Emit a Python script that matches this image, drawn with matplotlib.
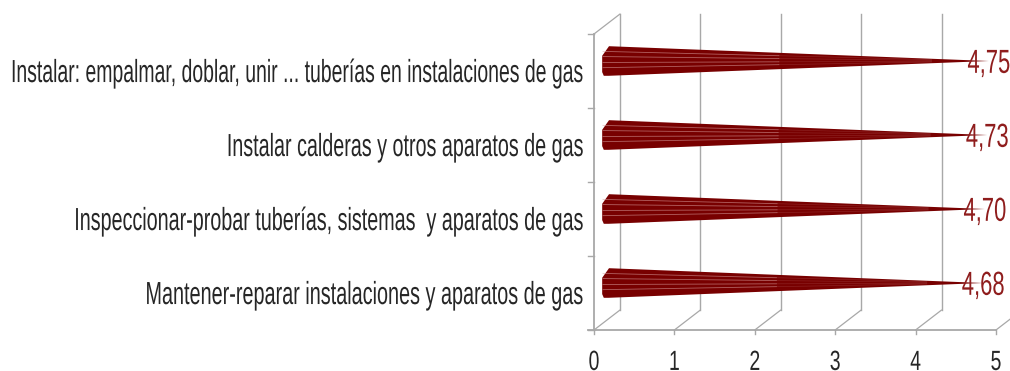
# Cone bar chart - gas installation tasks
import matplotlib
matplotlib.use("Agg")
import matplotlib.pyplot as plt
import matplotlib.patheffects as pe
import matplotlib.transforms as mtrans
from matplotlib.text import Text

# Data
categories = [
    "Mantener-reparar instalaciones y aparatos de gas",
    "Inspeccionar-probar tuberías, sistemas  y aparatos de gas",
    "Instalar calderas y otros aparatos de gas",
    "Instalar: empalmar, doblar, unir ... tuberías en instalaciones de gas",
]
values = [4.68, 4.70, 4.73, 4.75]
value_labels = ["4,68", "4,70", "4,73", "4,75"]
x_ticks = [0, 1, 2, 3, 4, 5]

# Style
plt.rcParams["font.family"] = ["Liberation Sans", "DejaVu Sans"]
grid_color = "#a8a8a8"
cone_color = "#780000"
streak_color = "#d8a0a0"
label_color = "#8f1d1d"
text_color = "#262626"
label_squeeze = [0.621, 0.618, 0.618, 0.608]
W, H = 1010, 371


# The original font is very narrow, so squeeze the glyphs sideways around the anchor
class Squeeze(pe.AbstractPathEffect):
    def __init__(self, text, sx):
        super().__init__()
        self.text = text
        self.sx = sx

    def draw_path(self, renderer, gc, tpath, affine, rgbFace=None):
        ax0 = self.text.anchor_px()
        squeeze = mtrans.Affine2D().translate(-ax0, 0).scale(self.sx, 1).translate(ax0, 0)
        renderer.draw_path(gc, tpath, affine + squeeze, rgbFace)


class NarrowText(Text):
    def __init__(self, x, y, s, sx, **kw):
        super().__init__(x, y, s, clip_on=False, **kw)
        self.sx = sx
        self.set_path_effects([Squeeze(self, sx)])

    def anchor_px(self):
        return self.get_transform().transform(self.get_position())[0]

    def get_window_extent(self, renderer=None, dpi=None):
        bb = super().get_window_extent(renderer, dpi)
        a = self.anchor_px()
        return mtrans.Bbox.from_extents(a + (bb.x0 - a) * self.sx, bb.y0, a + (bb.x1 - a) * self.sx, bb.y1)


def add_narrow(x, y, s, sx, **kw):
    t = NarrowText(x, y, s, sx, **kw)
    ax.add_artist(t)
    t.set_clip_path(None)
    return t


fig = plt.figure(figsize=(W / 100, H / 100), dpi=100)
ax = fig.add_axes([594 / W, 1 - 330 / H, 402 / W, 296 / H])
ax.set_xlim(0, 5)
ax.set_ylim(0, 4)
ax.axis("off")

# Depth shifts for the fake 3D look (pixels)
back = ax.transData + mtrans.ScaledTranslation(26 / 100, 20 / 100, fig.dpi_scale_trans)
mid = ax.transData + mtrans.ScaledTranslation(13 / 100, 10 / 100, fig.dpi_scale_trans)


def depth_line(x, y):
    fx, fy = ax.transData.transform((x, y))
    bx, by = back.transform((x, y))
    ax.annotate("", xy=(bx, by), xytext=(fx, fy), xycoords="figure pixels", textcoords="figure pixels",
                arrowprops=dict(arrowstyle="-", color=grid_color, lw=0.9, shrinkA=0, shrinkB=0))


# Back wall gridlines, floor lines
for t in x_ticks:
    ax.plot([t, t], [0, 4], color=grid_color, lw=1.0, transform=back, clip_on=False, zorder=1)
    ax.plot([t, t], [0, -0.06], color=grid_color, lw=1.0, clip_on=False, zorder=1)
    depth_line(t, 0)

# Left wall and axes
ax.plot([0, 0], [0, 4], color=grid_color, lw=1.3, clip_on=False, zorder=2)
ax.plot([-0.075, 5], [0, 0], color=grid_color, lw=1.3, clip_on=False, zorder=2)
for i in range(5):
    ax.plot([-0.075, 0], [i, i], color=grid_color, lw=1.0, clip_on=False, zorder=2)
depth_line(0, 4)

# Cones
half = 0.2
for i, v in enumerate(values):
    c = i + 0.5
    xs = [v, 0.025, -0.06, -0.06, -0.04, 0.02]
    ys = [c, c + half, c + half * 0.35, c - half * 0.75, c - half, c - half]
    ax.fill(xs, ys, color=cone_color, lw=0, transform=mid, zorder=3, clip_on=False)
    for f in [0.65, 0.3, -0.1, -0.45]:
        ax.plot([-0.05, v * 0.45], [c + half * f, c + half * f * 0.55], color=streak_color,
                lw=0.6, alpha=0.6, transform=mid, zorder=4, clip_on=False)
        ax.plot([v * 0.45, v * 0.85], [c + half * f * 0.55, c + half * f * 0.15], color=streak_color,
                lw=0.5, alpha=0.2, transform=mid, zorder=4, clip_on=False)
    add_narrow(v, c - 0.16, value_labels[i], 0.66, transform=mid, ha="center", va="baseline",
               fontsize=24, color=label_color, zorder=5)
    # Category labels
    add_narrow(-0.125, c - 0.149, categories[i], label_squeeze[i], transform=ax.transData, ha="right",
               va="baseline", fontsize=23, color=text_color)

# X tick labels
for t in x_ticks:
    add_narrow(t, -0.54, str(t), 0.7, transform=ax.transData, ha="center", va="baseline",
               fontsize=20, color=text_color)

fig.savefig("out.png", dpi=100)
